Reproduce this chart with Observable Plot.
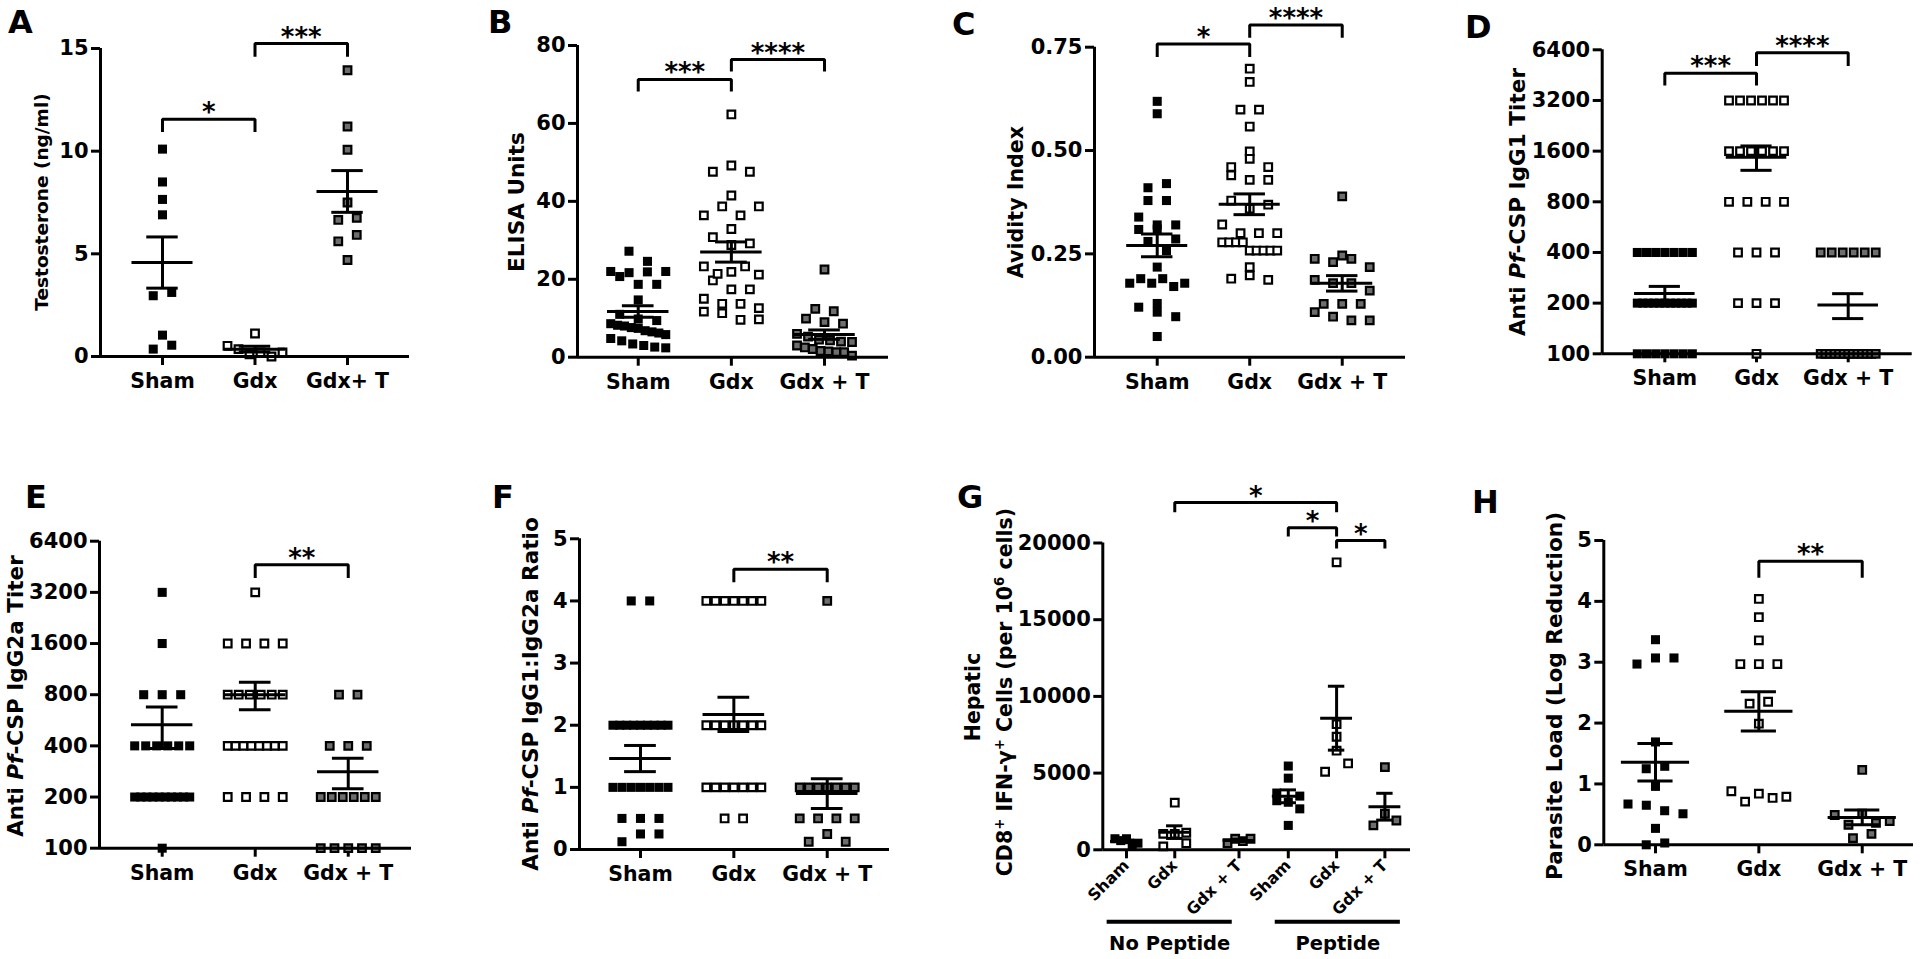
<!DOCTYPE html>
<html><head><meta charset="utf-8">
<script src="https://cdn.jsdelivr.net/npm/d3@7"></script>
<script src="https://cdn.jsdelivr.net/npm/@observablehq/plot@0.6"></script>
<style>
html,body{margin:0;padding:0;background:#fff;}
#fig{position:relative;width:1920px;height:959px;overflow:hidden;background:#fff;}
.panel{position:absolute;}
.panel svg{display:block;overflow:visible;max-width:none;}
</style></head><body><div id="fig"></div>
<script>
// ---------------- DATA ----------------
const groups3 = ["Sham", "Gdx", "Gdx + T"];
const groupsA = ["Sham", "Gdx", "Gdx+ T"];
const groupsG = ["Sham", "Gdx", "Gdx + T", "Sham", "Gdx", "Gdx + T"];

// A — Testosterone (ng/ml)
const testoSham = [10.1, 8.5, 7.65, 6.9, 2.96, 3.12, 1.04, 0.36, 0.55];
const testoGdx  = [1.12, 0.52, 0.36, 0.11, 0.2, 0.0, 0.2];
const testoGdxT = [13.94, 11.2, 10.07, 7.5, 6.65, 6.75, 5.61, 5.92, 4.7];

// B — ELISA Units
const elisaSham = [27.2, 24.6, 22.0, 21.7, 20.7, 21.9, 22.0, 18.7, 18.7, 14.7, 11.0, 9.8, 9.4, 8.6, 8.2, 8.0, 7.6, 7.4, 6.8, 6.5, 6.2, 5.8, 4.8, 4.2, 3.4, 3.0, 2.6, 2.4];
const elisaGdx  = [62.3, 47.6, 49.2, 47.6, 41.5, 36.4, 38.7, 36.4, 38.7, 32.9, 30.8, 28.8, 29.2, 19.7, 23.3, 21.4, 21.9, 23.3, 21.2, 17.4, 17.4, 15.0, 13.7, 13.7, 12.6, 11.7, 11.3, 9.6, 9.7];
const elisaGdxT = [22.5, 12.4, 11.8, 9.9, 9.0, 8.6, 6.0, 5.3, 4.5, 4.3, 4.0, 3.9, 3.0, 2.5, 2.1, 1.6, 1.5, 1.3, 1.3, 0.4];

// C — Avidity Index
const avidSham = [0.619, 0.589, 0.41, 0.42, 0.379, 0.379, 0.339, 0.309, 0.32, 0.31, 0.32, 0.286, 0.28, 0.258, 0.218, 0.179, 0.19, 0.179, 0.19, 0.171, 0.179, 0.13, 0.121, 0.109, 0.098, 0.05];
const avidGdx  = [0.698, 0.666, 0.599, 0.599, 0.558, 0.498, 0.46, 0.48, 0.46, 0.44, 0.429, 0.429, 0.379, 0.359, 0.369, 0.321, 0.30, 0.30, 0.30, 0.278, 0.278, 0.278, 0.278, 0.258, 0.258, 0.258, 0.258, 0.258, 0.19, 0.198, 0.218, 0.187];
const avidGdxT = [0.389, 0.246, 0.238, 0.23, 0.238, 0.218, 0.187, 0.179, 0.179, 0.161, 0.129, 0.109, 0.129, 0.129, 0.098, 0.089, 0.089];

// D — Anti Pf-CSP IgG1 Titer
const igg1Sham = [400, 400, 400, 400, 400, 400, 400, 200, 200, 200, 200, 200, 200, 200, 200, 200, 200, 200, 100, 100, 100, 100, 100, 100, 100];
const igg1Gdx  = [3200, 3200, 3200, 3200, 3200, 3200, 1600, 1600, 1600, 1600, 1600, 1600, 800, 800, 800, 800, 400, 400, 400, 200, 200, 200, 100];
const igg1GdxT = [400, 400, 400, 400, 400, 400, 100, 100, 100, 100, 100, 100, 100, 100, 100, 100, 100, 100, 100];

// E — Anti Pf-CSP IgG2a Titer
const igg2aSham = [3200, 1600, 800, 800, 800, 400, 400, 400, 400, 400, 400, 200, 200, 200, 200, 200, 200, 200, 200, 200, 200, 100];
const igg2aGdx  = [3200, 1600, 1600, 1600, 1600, 800, 800, 800, 800, 800, 800, 400, 400, 400, 400, 400, 400, 400, 400, 200, 200, 200, 200];
const igg2aGdxT = [800, 800, 400, 400, 400, 200, 200, 200, 200, 200, 200, 100, 100, 100, 100, 100];

// F — IgG1:IgG2a Ratio
const ratioSham = [4, 4, 2, 2, 2, 2, 2, 2, 2, 2, 2, 1, 1, 1, 1, 1, 1, 1, 0.5, 0.5, 0.5, 0.125, 0.25, 0.25];
const ratioGdx  = [4, 4, 4, 4, 4, 4, 4, 2, 2, 2, 2, 2, 2, 2, 1, 1, 1, 1, 1, 1, 1, 0.5, 0.5];
const ratioGdxT = [4, 1, 1, 1, 1, 1, 1, 1, 0.5, 0.5, 0.5, 0.5, 0.125, 0.25, 0.125];

// G — Hepatic CD8+ IFN-γ+ cells per 10^6 cells
const cd8ShamNP = [720, 600, 720, 280, 430];
const cd8GdxNP  = [3070, 1040, 1040, 1110, 220, 430];
const cd8GdxTNP = [430, 720, 570, 720];
const cd8ShamP  = [5460, 4670, 3700, 3500, 3200, 3100, 2670, 1590];
const cd8GdxP   = [18740, 8190, 7370, 6460, 5090, 5630];
const cd8GdxTP  = [5390, 2350, 1590, 1910];
const gSlots = [0, 1, 2.33, 3.35, 4.35, 5.35];
const gGroupBars = [{label: "No Peptide", x1: -0.4, x2: 2.19}, {label: "Peptide", x1: 3.08, x2: 5.67}];

// H — Parasite Load (Log Reduction)
const parSham = [3.37, 2.97, 3.07, 3.07, 1.69, 1.25, 1.29, 0.96, 0.67, 0.65, 0.56, 0.51, 0.27, 0.0, 0.03];
const parGdx  = [4.04, 3.74, 3.36, 2.97, 2.97, 2.97, 2.32, 2.35, 1.99, 0.88, 0.71, 0.84, 0.77, 0.79];
const parGdxT = [1.23, 0.49, 0.33, 0.51, 0.36, 0.39, 0.11, 0.18];

// significance brackets: from/to group index, top & leg-bottom in y units
const bracketsA = [{from: 0, to: 1, top: 11.55, bot: 10.93, label: "*"}, {from: 1, to: 2, top: 15.24, bot: 14.6, label: "***"}];
const bracketsB = [{from: 0, to: 1, top: 71.3, bot: 68.2, label: "***"}, {from: 1, to: 2, top: 76.4, bot: 73.3, label: "****"}];
const bracketsC = [{from: 0, to: 1, top: 0.758, bot: 0.726, label: "*"}, {from: 1, to: 2, top: 0.804, bot: 0.773, label: "****"}];
const bracketsD = [{from: 0, to: 1, top: 4650, bot: 3930, label: "***"}, {from: 1, to: 2, top: 6140, bot: 5120, label: "****"}];
const bracketsE = [{from: 1, to: 2, top: 4650, bot: 3890, label: "**"}];
const bracketsF = [{from: 1, to: 2, top: 4.51, bot: 4.30, label: "**"}];
const bracketsG = [{from: 1, to: 4, top: 22640, bot: 22000, label: "*"}, {from: 3, to: 4, top: 20990, bot: 20420, label: "*"}, {from: 4, to: 5, top: 20160, bot: 19640, label: "*"}];
const bracketsH = [{from: 1, to: 2, top: 4.66, bot: 4.39, label: "**"}];

// ---------------- LAYOUT ----------------
const K3 = ["sham", "gdx", "gdxT"];
const titleSeg = (t, o = {}) => Object.assign({t}, o);
const panels = [
  {letter: "A", letterPos: [8, 33], box: [0, 0, 470, 470], frame: [100, 409, 48, 356], xdom: [-0.67, 2.67], pos: [0, 1, 2], labels: groupsA, kinds: K3,
   series: [testoSham, testoGdx, testoGdxT], ytype: "linear", ydom: [0, 15], yticks: [0, 5, 10, 15], yfmt: d => String(d), brackets: bracketsA,
   titles: [{segs: [titleSeg("Testosterone (ng/ml)")], c: [42, 202], size: 18.5}]},
  {letter: "B", letterPos: [488, 33], box: [470, 0, 470, 470], frame: [577, 888, 45, 356.7], xdom: [-0.652, 2.687], pos: [0, 1, 2], labels: groups3, kinds: K3,
   series: [elisaSham, elisaGdx, elisaGdxT], ytype: "linear", ydom: [0, 80], yticks: [0, 20, 40, 60, 80], yfmt: d => String(d), brackets: bracketsB,
   titles: [{segs: [titleSeg("ELISA Units")], c: [516, 202], size: 21.6}]},
  {letter: "C", letterPos: [952, 35], box: [940, 0, 480, 470], frame: [1094, 1405, 46.7, 356.7], xdom: [-0.678, 2.684], pos: [0, 1, 2], labels: groups3, kinds: K3,
   series: [avidSham, avidGdx, avidGdxT], ytype: "linear", ydom: [0, 0.75], yticks: [0, 0.25, 0.5, 0.75], yfmt: d3.format(".2f"), brackets: bracketsC,
   titles: [{segs: [titleSeg("Avidity Index")], c: [1016, 202], size: 20.6}]},
  {letter: "D", letterPos: [1465, 38], box: [1420, 0, 500, 470], frame: [1601.7, 1911.7, 49.3, 353.3], xdom: [-0.683, 2.698], pos: [0, 1, 2], labels: groups3, kinds: K3,
   series: [igg1Sham, igg1Gdx, igg1GdxT], ytype: "log", ydom: [100, 6400], yticks: [100, 200, 400, 800, 1600, 3200, 6400], yfmt: d => String(d), brackets: bracketsD,
   titles: [{segs: [titleSeg("Anti "), titleSeg("Pf", {i: true}), titleSeg("-CSP IgG1 Titer")], c: [1517, 202], size: 21.6}]},
  {letter: "E", letterPos: [25, 508], box: [0, 470, 470, 489], frame: [99, 411, 540.7, 847.7], xdom: [-0.674, 2.68], pos: [0, 1, 2], labels: groups3, kinds: K3,
   series: [igg2aSham, igg2aGdx, igg2aGdxT], ytype: "log", ydom: [100, 6400], yticks: [100, 200, 400, 800, 1600, 3200, 6400], yfmt: d => String(d), brackets: bracketsE,
   titles: [{segs: [titleSeg("Anti "), titleSeg("Pf", {i: true}), titleSeg("-CSP IgG2a Titer")], c: [15, 696], size: 21.5}]},
  {letter: "F", letterPos: [492, 508], box: [470, 470, 470, 489], frame: [579, 889, 538.3, 849], xdom: [-0.653, 2.667], pos: [0, 1, 2], labels: groups3, kinds: K3,
   series: [ratioSham, ratioGdx, ratioGdxT], ytype: "linear", ydom: [0, 5], yticks: [0, 1, 2, 3, 4, 5], yfmt: d => String(d), brackets: bracketsF,
   titles: [{segs: [titleSeg("Anti "), titleSeg("Pf", {i: true}), titleSeg("-CSP IgG1:IgG2a Ratio")], c: [530, 694], size: 21.6}]},
  {letter: "G", letterPos: [957, 508], box: [940, 470, 480, 489], frame: [1102.3, 1410, 542.5, 849.3], xdom: [-0.49, 5.88], pos: gSlots, labels: groupsG,
   kinds: ["sham", "gdx", "gdxT", "sham", "gdx", "gdxT"], rotate: true, sp: 23, maxW: 23,
   series: [cd8ShamNP, cd8GdxNP, cd8GdxTNP, cd8ShamP, cd8GdxP, cd8GdxTP], ytype: "linear", ydom: [0, 20000], yticks: [0, 5000, 10000, 15000, 20000], yfmt: d => String(d), brackets: bracketsG,
   titles: [{segs: [titleSeg("Hepatic")], c: [973, 697], size: 20.5},
            {segs: [titleSeg("CD8"), titleSeg("+", {sup: true}), titleSeg(" IFN-"), titleSeg("γ"), titleSeg("+", {sup: true}), titleSeg(" Cells (per 10"), titleSeg("6", {sup: true}), titleSeg(" cells)")], c: [1005, 692], size: 20.5}]},
  {letter: "H", letterPos: [1472, 513], box: [1420, 470, 500, 489], frame: [1603.3, 1913, 540, 844.3], xdom: [-0.5, 2.496], pos: [0, 1, 2], labels: groups3, kinds: K3,
   series: [parSham, parGdx, parGdxT], ytype: "linear", ydom: [0, 5], yticks: [0, 1, 2, 3, 4, 5], yfmt: d => String(d), brackets: bracketsH,
   titles: [{segs: [titleSeg("Parasite Load (Log Reduction)")], c: [1554, 696], size: 21.6}]}
];

// GraphPad-like scatter: rows of near-equal values spread horizontally
function layoutGroup(vals, yPix, sp, maxW, thresh) {
  const items = vals.map((v, i) => ({v, i, py: yPix(v), dxPx: 0}));
  const sorted = items.slice().sort((a, b) => b.py - a.py || a.i - b.i);
  const rows = []; let cur = null;
  for (const it of sorted) {
    if (cur && cur.start - it.py < thresh) cur.items.push(it);
    else { cur = {start: it.py, items: [it]}; rows.push(cur); }
  }
  for (const row of rows) {
    row.items.sort((a, b) => a.i - b.i);
    const n = row.items.length;
    const s = n > 1 ? Math.min(sp, maxW / (n - 1)) : 0;
    row.items.forEach((it, k) => it.dxPx = (k - (n - 1) / 2) * s);
  }
  return items;
}

const FONT = "DejaVu Sans";
const fig = document.getElementById("fig");

function renderPanel(p) {
  const [bx, by, bw, bh] = p.box;
  const [fx0, fx1, fy0, fy1] = p.frame;
  const ml = fx0 - bx, mr = bx + bw - fx1, mt = fy0 - by, mb = by + bh - fy1;
  const stepPx = (fx1 - fx0) / (p.xdom[1] - p.xdom[0]);
  const yPix = (p.ytype === "log" ? d3.scaleLog().base(2) : d3.scaleLinear()).domain(p.ydom).range([fy1, fy0]);
  const sp = p.sp ?? 18.5, maxW = p.maxW ?? 55, thresh = 11;
  const pts = [], stats = [];
  p.series.forEach((vals, g) => {
    layoutGroup(vals, yPix, sp, maxW, thresh).forEach(it =>
      pts.push({x: p.pos[g] + it.dxPx / stepPx, v: it.v, kind: p.kinds[g]}));
    const m = d3.mean(vals), s = d3.deviation(vals) / Math.sqrt(vals.length);
    stats.push({pos: p.pos[g], mean: m, lo: m - s, hi: m + s});
  });
  const bpaths = [];
  p.brackets.forEach((b, k) => {
    const a = p.pos[b.from], c = p.pos[b.to];
    bpaths.push({id: k, x: a, y: b.bot}, {id: k, x: a, y: b.top}, {id: k, x: c, y: b.top}, {id: k, x: c, y: b.bot});
  });
  const marks = [
    Plot.dot(pts.filter(d => d.kind === "sham"), {x: "x", y: "v", symbol: "square", r: 5.1, fill: "black", stroke: "none"}),
    Plot.dot(pts.filter(d => d.kind === "gdx"), {x: "x", y: "v", symbol: "square", r: 4.3, fill: "white", stroke: "black", strokeWidth: 2.2}),
    Plot.dot(pts.filter(d => d.kind === "gdxT"), {x: "x", y: "v", symbol: "square", r: 4.3, fill: "#6e6e6e", stroke: "black", strokeWidth: 2.2}),
    Plot.ruleY(stats, {x1: d => d.pos - 0.33, x2: d => d.pos + 0.33, y: "mean", strokeWidth: 3}),
    Plot.ruleX(stats, {x: "pos", y1: "lo", y2: "hi", strokeWidth: 3}),
    Plot.ruleY(stats, {x1: d => d.pos - 0.17, x2: d => d.pos + 0.17, y: "lo", strokeWidth: 3}),
    Plot.ruleY(stats, {x1: d => d.pos - 0.17, x2: d => d.pos + 0.17, y: "hi", strokeWidth: 3}),
    Plot.ruleY([p.ydom[0]], {strokeWidth: 3}),
    Plot.ruleX([p.xdom[0]], {strokeWidth: 3}),
    Plot.line(bpaths, {x: "x", y: "y", z: "id", strokeWidth: 3, strokeLinejoin: "miter", strokeLinecap: "butt", curve: "linear"}),
    Plot.text(p.brackets, {x: b => (p.pos[b.from] + p.pos[b.to]) / 2, y: "top", text: "label", lineAnchor: "bottom", dy: 2,
      fontSize: 26, fontWeight: "bold", fontFamily: FONT, fill: "black"})
  ];
  if (p.letter === "G") {
    marks.push(Plot.ruleY(gGroupBars, {x1: "x1", x2: "x2", y: () => 0, dy: 72, strokeWidth: 4}));
    marks.push(Plot.text(gGroupBars, {x: d => (d.x1 + d.x2) / 2, y: () => 0, dy: 94, text: "label", lineAnchor: "middle",
      fontSize: 19.5, fontWeight: "bold", fontFamily: FONT, fill: "black"}));
  }
  const svg = Plot.plot({
    width: bw, height: bh, marginLeft: ml, marginRight: mr, marginTop: mt, marginBottom: mb,
    style: {fontFamily: FONT, fontWeight: "bold", fontSize: "20px", color: "black", background: "transparent", overflow: "visible"},
    x: {type: "linear", domain: p.xdom, ticks: p.pos, tickFormat: d => { const i = p.pos.indexOf(d); return i >= 0 ? p.labels[i] : ""; },
        tickSize: 9, tickPadding: p.rotate ? 4 : 8, tickRotate: p.rotate ? -45 : 0, label: null},
    y: {type: p.ytype, ...(p.ytype === "log" ? {base: 2} : {}), domain: p.ydom, ticks: p.yticks, tickFormat: p.yfmt, tickSize: 9, tickPadding: 3, label: null},
    marks
  });
  const s = d3.select(svg);
  s.selectAll('[aria-label^="x-axis"], [aria-label^="y-axis"]').attr("stroke-width", 3);
  s.selectAll('[aria-label^="y-axis"]').attr("font-size", 21);
  s.selectAll('[aria-label^="x-axis"]').attr("font-size", p.rotate ? 16 : 20.5);
  // axis titles
  for (const t of p.titles) {
    const sz = t.size;
    const txt = s.append("text")
      .attr("transform", `translate(${t.c[0] - bx},${t.c[1] - by}) rotate(-90)`)
      .attr("text-anchor", "middle").attr("dy", "0.35em")
      .attr("font-family", FONT).attr("font-weight", "bold").attr("font-size", sz).attr("fill", "black");
    let raised = false;
    for (const seg of t.segs) {
      const ts = txt.append("tspan").text(seg.t);
      if (seg.i) ts.attr("font-style", "italic");
      if (seg.sup && !raised) { ts.attr("dy", -sz * 0.42).attr("font-size", sz * 0.65); raised = true; }
      else if (seg.sup) ts.attr("font-size", sz * 0.65);
      else if (raised) { ts.attr("dy", sz * 0.42); raised = false; }
    }
  }
  // panel letter
  s.append("text").attr("x", p.letterPos[0] - bx).attr("y", p.letterPos[1] - by)
    .attr("text-anchor", "start")
    .attr("font-family", FONT).attr("font-weight", "bold").attr("font-size", 32).attr("fill", "black").text(p.letter);
  const div = document.createElement("div");
  div.className = "panel";
  div.style.left = bx + "px"; div.style.top = by + "px";
  div.appendChild(svg);
  fig.appendChild(div);
}
panels.forEach(renderPanel);
</script></body></html>
